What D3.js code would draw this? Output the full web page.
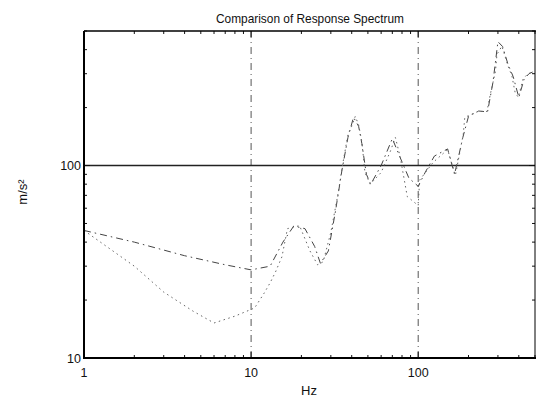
<!DOCTYPE html>
<html>
<head>
<meta charset="utf-8">
<script src="https://cdn.jsdelivr.net/npm/d3@7"></script>
<style>
  body { margin: 0; background: #fff; }
  text { font-family: "Liberation Sans", Arial, sans-serif; fill: #111; }
</style>
</head>
<body>
<svg id="chart" width="536" height="399"></svg>
<script>
const WIDTH = 536, HEIGHT = 399;

// dash-dot curve
const freqA = [1, 2, 4, 7, 10, 13, 15.5, 18, 21, 24, 26, 29, 32, 35, 38, 41, 44, 46, 49, 52, 60, 70, 78, 88, 100, 110, 125, 150, 165, 185, 200, 230, 260, 280, 300, 320, 345, 370, 400, 430, 460, 500];
const valA  = [46, 40, 34, 30.5, 28.7, 30, 40, 48.5, 47, 38, 31, 36, 58, 95, 140, 178, 160, 130, 90, 80, 100, 138, 110, 86, 78, 92, 112, 122, 90, 140, 180, 192, 190, 270, 440, 415, 335, 290, 226, 280, 300, 310];

// dotted curve
const freqB = [1, 2, 3, 4.5, 6, 8, 10.5, 12, 13, 14, 15.3, 16.5, 19.5, 22.5, 25, 27, 30, 33, 35.5, 38, 40, 42, 44, 46, 48, 51.6, 60, 68, 73, 78, 86, 100, 102, 123, 150, 167, 186, 190, 228, 258, 270, 290, 296, 317, 342, 364, 380, 397, 424, 450, 490];
const valB  = [46, 30, 22, 17.5, 15.2, 16.5, 18.2, 21.8, 24.6, 28, 33.6, 47, 48.7, 36, 30.5, 31.6, 45, 70, 104, 145, 160, 180, 163, 133, 92, 80, 92, 118, 140, 111, 69, 62, 84, 104, 121, 89, 145, 178, 191, 191, 234, 309, 378, 417, 336, 291, 240, 226, 281, 298, 309];

const xMajor = [1, 10, 100];
const yMajor = [10, 100];
const xMinor = [2, 3, 4, 5, 6, 7, 8, 9, 20, 30, 40, 50, 60, 70, 80, 90, 200, 300, 400, 500];
const yMinor = [20, 30, 40, 50, 60, 70, 80, 90, 200, 300, 400, 500];

const svg = d3.select("#chart");
const pLeft = 84, pRight = 535, pTop = 31, pBottom = 358;

const x = d3.scaleLog().domain([1, 500]).range([pLeft, pRight]);
const y = d3.scaleLog().domain([10, 500]).range([pBottom, pTop]);

svg.append("defs").append("clipPath").attr("id", "clip")
  .append("rect").attr("x", pLeft).attr("y", pTop)
  .attr("width", pRight - pLeft).attr("height", pBottom - pTop);

// grid lines
svg.selectAll(".vgrid").data([10, 100]).join("line")
  .attr("x1", d => x(d)).attr("x2", d => x(d))
  .attr("y1", pTop).attr("y2", pBottom)
  .attr("stroke", "#555").attr("stroke-width", 1)
  .attr("stroke-dasharray", "7,4,1,4");

svg.append("line")
  .attr("x1", pLeft).attr("x2", pRight)
  .attr("y1", y(100)).attr("y2", y(100))
  .attr("stroke", "#222").attr("stroke-width", 1.6);

// curves
const line = d3.line().x(d => x(d[0])).y(d => y(d[1]));
const g = svg.append("g").attr("clip-path", "url(#clip)");

g.append("path")
  .datum(freqA.map((f, i) => [f, valA[i]]))
  .attr("d", line).attr("fill", "none")
  .attr("stroke", "#444").attr("stroke-width", 1)
  .attr("stroke-dasharray", "7,4,1.5,4");

g.append("path")
  .datum(freqB.map((f, i) => [f, valB[i]]))
  .attr("d", line).attr("fill", "none")
  .attr("stroke", "#666").attr("stroke-width", 1)
  .attr("stroke-dasharray", "1.5,3.5");

// ticks (inward on all sides)
const ticks = svg.append("g").attr("stroke", "#111").attr("stroke-width", 1);
[[xMajor, 6], [xMinor, 3]].forEach(([arr, len]) => {
  arr.forEach(d => {
    ticks.append("line").attr("x1", x(d)).attr("x2", x(d)).attr("y1", pBottom).attr("y2", pBottom - len);
    ticks.append("line").attr("x1", x(d)).attr("x2", x(d)).attr("y1", pTop).attr("y2", pTop + len);
  });
});
[[yMajor, 6], [yMinor, 3]].forEach(([arr, len]) => {
  arr.forEach(d => {
    ticks.append("line").attr("x1", pLeft).attr("x2", pLeft + len).attr("y1", y(d)).attr("y2", y(d));
    ticks.append("line").attr("x1", pRight).attr("x2", pRight - len).attr("y1", y(d)).attr("y2", y(d));
  });
});

// frame
svg.append("line").attr("x1", pLeft).attr("x2", pLeft).attr("y1", pTop).attr("y2", pBottom + 1)
  .attr("stroke", "#000").attr("stroke-width", 2);
svg.append("line").attr("x1", pLeft - 1).attr("x2", pRight + 1).attr("y1", pBottom).attr("y2", pBottom)
  .attr("stroke", "#000").attr("stroke-width", 2);
svg.append("line").attr("x1", pLeft).attr("x2", pRight + 1).attr("y1", pTop).attr("y2", pTop)
  .attr("stroke", "#000").attr("stroke-width", 1.5);
svg.append("line").attr("x1", pRight).attr("x2", pRight).attr("y1", pTop).attr("y2", pBottom)
  .attr("stroke", "#000").attr("stroke-width", 1);

// tick labels
svg.selectAll(".xl").data(xMajor).join("text")
  .attr("x", d => x(d)).attr("y", 377)
  .attr("text-anchor", "middle").attr("font-size", 12.5)
  .text(d => d);

svg.selectAll(".yl").data(yMajor).join("text")
  .attr("x", pLeft - 3).attr("y", d => y(d) + 4.5)
  .attr("text-anchor", "end").attr("font-size", 12.5)
  .text(d => d);

// titles
svg.append("text").attr("x", 310).attr("y", 23)
  .attr("text-anchor", "middle").attr("font-size", 13)
  .attr("textLength", 188).attr("lengthAdjust", "spacingAndGlyphs")
  .text("Comparison of Response Spectrum");

svg.append("text").attr("x", 309).attr("y", 395)
  .attr("text-anchor", "middle").attr("font-size", 13)
  .text("Hz");

svg.append("text")
  .attr("transform", "translate(27,192) rotate(-90)")
  .attr("text-anchor", "middle").attr("font-size", 13)
  .text("m/s²");
</script>
</body>
</html>
